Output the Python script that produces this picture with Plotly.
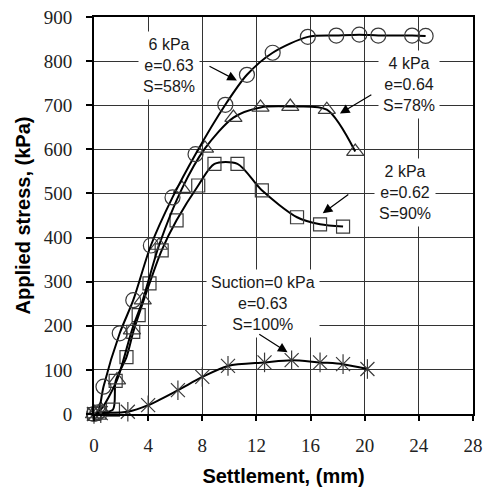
import plotly.graph_objects as go

# Settlement (mm) and applied stress (kPa) for each matric suction test
x_6kpa = [0, 0.3, 0.7, 1.9, 2.9, 4.2, 5.8, 7.5, 9.7, 11.3, 13.2, 15.8, 17.9, 19.6, 21.0, 23.5, 24.5]
y_6kpa = [0, 4, 62, 183, 258, 382, 491, 589, 701, 769, 819, 855, 858, 860, 858, 858, 857]

x_4kpa = [0, 0.5, 1.7, 2.8, 3.6, 4.8, 6.5, 8.2, 10.3, 12.3, 14.5, 17.2, 19.3]
y_4kpa = [0, 10, 77, 190, 258, 382, 511, 602, 672, 695, 697, 690, 595]

x_2kpa = [0, 0.4, 1.4, 1.6, 2.4, 2.9, 3.3, 4.1, 5.0, 6.1, 7.7, 8.9, 10.6, 12.4, 15.0, 16.7, 18.4]
y_2kpa = [0, 3, 10, 75, 129, 186, 224, 296, 371, 439, 518, 567, 567, 507, 446, 430, 425]

x_0kpa = [0, 0.5, 2.5, 4.0, 6.2, 8.0, 9.9, 12.6, 14.6, 16.7, 18.4, 20.2]
y_0kpa = [0, 2, 5, 20, 54, 84, 109, 117, 122, 117, 113, 102]

x_ticks = [0, 4, 8, 12, 16, 20, 24, 28]
y_ticks = [0, 100, 200, 300, 400, 500, 600, 700, 800, 900]

# Label text, label anchor (x, y), arrow tail (x, y), arrow tip (x, y)
labels = [
    ("6 kPa<br>e=0.63<br>S=58%", 5.54, 790, 8.42, 790, 10.56, 756),
    ("4 kPa<br>e=0.64<br>S=78%", 23.3, 747, 20.6, 726, 18.17, 681),
    ("2 kPa<br>e=0.62<br>S=90%", 23.0, 502, 18.9, 500, 16.9, 455),
    ("Suction=0 kPa<br>e=0.63<br>S=100%", 12.5, 251, 12.1, 183, 14.3, 140),
]

ink = "#1a1a1a"
mark = "#3a3a3a"
serif = "Liberation Serif, Times New Roman, serif"
sans = "Arial, Liberation Sans, sans-serif"
fig = go.Figure()

def curve(xs, ys, symbol, size):
    fig.add_trace(go.Scatter(
        x=xs, y=ys, mode="lines+markers",
        line=dict(color="black", width=2, shape="spline", smoothing=0.8),
        marker=dict(symbol=symbol, size=size, color=mark,
                    line=dict(color=mark, width=1.2)),
        cliponaxis=False, showlegend=False,
    ))

curve(x_2kpa, y_2kpa, "square-open", 13)
curve(x_4kpa, y_4kpa, "triangle-up-open", 15)
curve(x_6kpa, y_6kpa, "circle-open", 15)
curve(x_0kpa, y_0kpa, "x-thin-open", 14)
# vertical stroke completes the six-armed star marker
fig.add_trace(go.Scatter(
    x=x_0kpa, y=y_0kpa, mode="markers",
    marker=dict(symbol="line-ns-open", size=14, color=mark,
                line=dict(color=mark, width=1.2)),
    cliponaxis=False, showlegend=False,
))

for text, tx, ty, ax, ay, hx, hy in labels:
    fig.add_annotation(x=tx, y=ty, text=text, showarrow=False,
                       font=dict(family=sans, size=16, color=ink),
                       bgcolor="white", borderpad=4, align="center")
    fig.add_annotation(x=hx, y=hy, ax=ax, ay=ay, axref="x", ayref="y",
                       text="", showarrow=True, arrowhead=2, arrowsize=1.6,
                       arrowwidth=1.2, arrowcolor="black")

fig.update_xaxes(
    range=[0, 28], tickvals=x_ticks, ticks="outside", ticklen=5, tickwidth=2,
    tickcolor="black", showline=True, linewidth=2, linecolor="black", mirror=True,
    showgrid=True, gridcolor="#333333", gridwidth=1, zeroline=False,
    tickfont=dict(family=serif, size=19, color="#222"),
    ticklabelstandoff=8, automargin=False,
    title=dict(text="<b>Settlement, (mm)</b>", standoff=14,
               font=dict(family=sans, size=20, color="black")),
)
fig.update_yaxes(
    range=[0, 900], tickvals=y_ticks, ticks="outside", ticklen=6, tickwidth=2,
    tickcolor="black", showline=True, linewidth=2, linecolor="black", mirror=True,
    showgrid=True, gridcolor="#333333", gridwidth=1, zeroline=False,
    tickfont=dict(family=serif, size=19, color="#222"),
    ticklabelstandoff=10, automargin=False,
    title=dict(text="<b>Applied stress, (kPa)</b>", standoff=8,
               font=dict(family=sans, size=20, color="black")),
)

fig.update_layout(
    width=483, height=488,
    margin=dict(l=94, r=10, t=17, b=74),
    paper_bgcolor="white", plot_bgcolor="white",
)

fig.write_html("out.html")
